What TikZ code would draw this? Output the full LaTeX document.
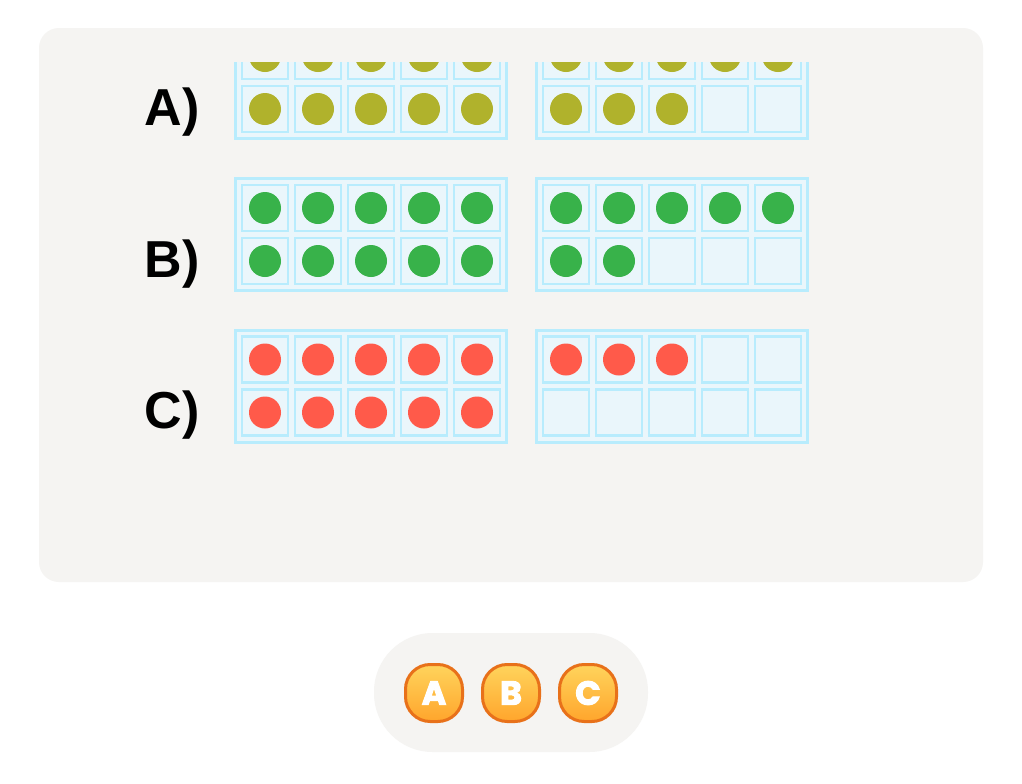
\documentclass[tikz,border=0pt]{standalone}
\usepackage{fontspec}
\setmainfont{Liberation Sans}
\newfontfamily\btnfont{Poppins}[FakeBold=3]

\definecolor{panelgray}{HTML}{F5F4F2}
\definecolor{tenblue}{HTML}{B8ECFD}
\definecolor{tencell}{HTML}{EAF6FB}
\definecolor{dotolive}{HTML}{B0B22C}
\definecolor{dotgreen}{HTML}{38B24A}
\definecolor{dotred}{HTML}{FF5A4A}
\definecolor{btnedge}{HTML}{E8711A}
\definecolor{btntop}{HTML}{FFD45C}
\definecolor{btnbottom}{HTML}{FFA52C}

\begin{document}
\begin{tikzpicture}[x=0.75pt, y=-0.75pt,
  frame/.style={draw=tenblue, fill=tencell, line width=2.25pt, minimum width=203.25pt, minimum height=84pt, inner sep=0pt},
  cell/.style={draw=tenblue, fill=tencell, line width=1.9pt, minimum size=34.5pt, inner sep=0pt},
  counter/.style={circle, fill=#1, minimum size=24pt, inner sep=0pt},
  rowlabel/.style={anchor=base, font=\bfseries\fontsize{39}{39}\selectfont},
  btn/.style={draw=btnedge, line width=2.25pt, top color=btntop, bottom color=btnbottom, rounded corners=18.5pt, minimum size=42.75pt, inner sep=0pt},
  btnkey/.style={text=white, font=\btnfont\bfseries\fontsize{25}{25}\selectfont}]
\useasboundingbox (0,0) rectangle (1022,783);
\fill[white] (0,0) rectangle (1022,783);
\fill[panelgray, rounded corners=15pt] (39,28) rectangle (983,582);
\fill[panelgray, rounded corners=44pt] (374,633) rectangle (648,752);

% ten frames, one row per answer
\foreach \r/\col/\n/\yc in {A/dotolive/8/82.5, B/dotgreen/7/234.5, C/dotred/3/386}{
  \node[rowlabel] (lbl\r) at (172,\yc+42.5) {\r)};
  \begin{scope}
    \clip (39,62) rectangle (983,582);
    \node[frame] (full\r) at (371,\yc) {};
    \node[frame] (part\r) at (672,\yc) {};
    \foreach \i in {0,...,4}{
      \foreach \j in {0,1}{
        \node[cell] (fc\r\i\j) at (265+53*\i,\yc-26.5+53*\j) {};
        \node[counter=\col] (fd\r\i\j) at (fc\r\i\j) {};
        \node[cell] (pc\r\i\j) at (566+53*\i,\yc-26.5+53*\j) {};
        \pgfmathtruncatemacro\k{\j*5+\i}
        \ifnum\k<\n
          \node[counter=\col] (pd\r\i\j) at (pc\r\i\j) {};
        \fi
      }
    }
  \end{scope}
}

% answer buttons
\foreach \b/\x in {A/434, B/511, C/588}{
  \node[btn] (btn\b) at (\x,693) {};
  \node[btnkey] (key\b) at (btn\b.center) {\b};
}
\end{tikzpicture}
\end{document}
